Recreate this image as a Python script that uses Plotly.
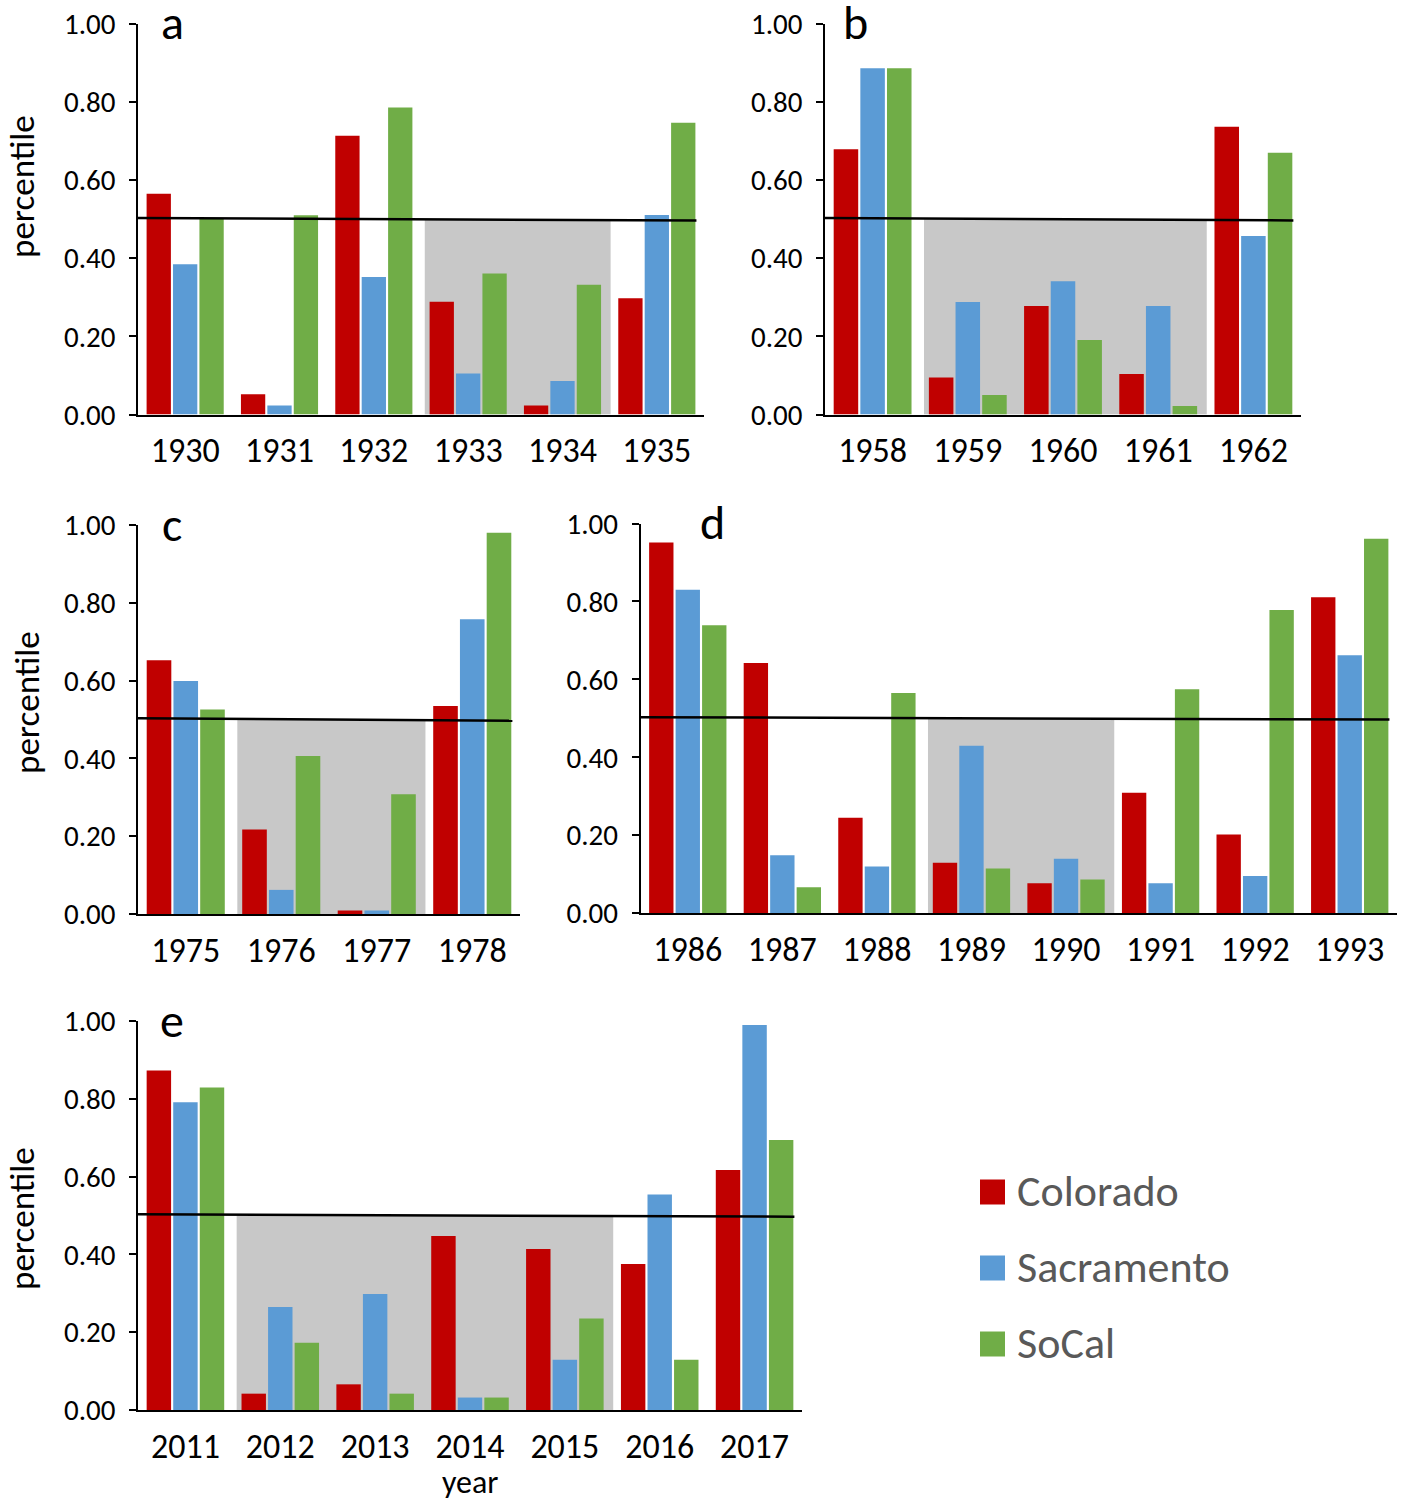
import plotly.graph_objects as go

# ---- data -------------------------------------------------------------
series_names = ["Colorado", "Sacramento", "SoCal"]
series_colors = ["#C00000", "#5B9BD5", "#70AD47"]

years_a = ["1930", "1931", "1932", "1933", "1934", "1935"]
colorado_a = [0.565, 0.052, 0.714, 0.289, 0.023, 0.298]
sacramento_a = [0.385, 0.023, 0.352, 0.105, 0.086, 0.511]
socal_a = [0.501, 0.510, 0.786, 0.361, 0.332, 0.747]
drought_a = ("1933", "1934")

years_b = ["1958", "1959", "1960", "1961", "1962"]
colorado_b = [0.679, 0.095, 0.278, 0.104, 0.737]
sacramento_b = [0.887, 0.288, 0.341, 0.278, 0.457]
socal_b = [0.887, 0.050, 0.191, 0.022, 0.670]
drought_b = ("1959", "1961")

years_c = ["1975", "1976", "1977", "1978"]
colorado_c = [0.652, 0.217, 0.009, 0.535]
sacramento_c = [0.599, 0.062, 0.009, 0.758]
socal_c = [0.526, 0.406, 0.308, 0.980]
drought_c = ("1976", "1977")

years_d = ["1986", "1987", "1988", "1989", "1990", "1991", "1992", "1993"]
colorado_d = [0.951, 0.642, 0.245, 0.130, 0.077, 0.309, 0.202, 0.811]
sacramento_d = [0.830, 0.149, 0.120, 0.430, 0.140, 0.077, 0.096, 0.662]
socal_d = [0.739, 0.067, 0.565, 0.115, 0.087, 0.575, 0.778, 0.961]
drought_d = ("1989", "1990")

years_e = ["2011", "2012", "2013", "2014", "2015", "2016", "2017"]
colorado_e = [0.873, 0.042, 0.066, 0.447, 0.414, 0.375, 0.617]
sacramento_e = [0.791, 0.265, 0.298, 0.032, 0.129, 0.554, 0.990]
socal_e = [0.829, 0.173, 0.042, 0.032, 0.235, 0.129, 0.694]
drought_e = ("2012", "2015")

# median reference line (left and right end values)
median_line = (0.503, 0.497)
y_ticks = [0.0, 0.2, 0.4, 0.6, 0.8, 1.0]

# ---- layout constants -------------------------------------------------
W, H = 1411, 1502
FONT = "Calibri, Carlito, Lato, sans-serif"
SHADE = "#C8C8C8"

# pixel boxes of each plot area: (left, right, top, bottom),
# horizontal centre of the panel letter, and y-label centre
panels = [
    dict(letter="a", years=years_a, vals=(colorado_a, sacramento_a, socal_a),
         drought=drought_a, box=(138, 704, 24, 414.5), letter_x=172, ylabel=(22, 187)),
    dict(letter="b", years=years_b, vals=(colorado_b, sacramento_b, socal_b),
         drought=drought_b, box=(825, 1301, 24, 414.5), letter_x=855, ylabel=None),
    dict(letter="c", years=years_c, vals=(colorado_c, sacramento_c, socal_c),
         drought=drought_c, box=(138, 520, 525, 914), letter_x=172, ylabel=(27, 703)),
    dict(letter="d", years=years_d, vals=(colorado_d, sacramento_d, socal_d),
         drought=drought_d, box=(640.5, 1397, 523.5, 913.3), letter_x=712, ylabel=None),
    dict(letter="e", years=years_e, vals=(colorado_e, sacramento_e, socal_e),
         drought=drought_e, box=(138, 802, 1021, 1410), letter_x=172, ylabel=(22, 1219)),
]


def px_x(v):
    return v / W


def px_y(v):
    return 1 - v / H


fig = go.Figure()
shapes = []
annotations = []
layout_axes = {}

for i, p in enumerate(panels, start=1):
    xa, ya = f"x{i}", f"y{i}"
    n = len(p["years"])
    pos = list(range(n))
    for name, color, vals in zip(series_names, series_colors, p["vals"]):
        fig.add_trace(go.Bar(
            x=pos, y=vals, name=name, marker=dict(color=color, line=dict(width=0)),
            xaxis=xa, yaxis=ya, showlegend=False,
        ))

    left, right, top, bottom = p["box"]
    layout_axes[f"xaxis{i}"] = dict(
        domain=[px_x(left), px_x(right)], anchor=ya, range=[-0.5, n - 0.5],
        tickvals=pos, ticktext=p["years"], ticks="", showgrid=False, zeroline=False,
        showline=True, linecolor="black", linewidth=2, automargin=False,
        tickfont=dict(family=FONT, size=34, color="black"), ticklabelstandoff=5,
        fixedrange=True,
    )
    layout_axes[f"yaxis{i}"] = dict(
        domain=[px_y(bottom), px_y(top)], anchor=xa, range=[0, 1],
        tickvals=y_ticks, tickformat=".2f", ticks="outside", ticklen=7, tickwidth=1.5,
        tickcolor="black", showgrid=False, zeroline=False, automargin=False,
        showline=True, linecolor="black", linewidth=1.5,
        tickfont=dict(family=FONT, size=29, color="black"), ticklabelstandoff=8,
        fixedrange=True,
    )

    # drought period shading
    d0 = p["years"].index(p["drought"][0])
    d1 = p["years"].index(p["drought"][1])
    shapes.append(dict(
        type="rect", xref=xa, yref=ya, x0=d0 - 0.46, x1=d1 + 0.51, y0=0, y1=0.5,
        fillcolor=SHADE, line=dict(width=0), layer="below",
    ))
    # median line
    shapes.append(dict(
        type="line", xref=xa, yref=ya, x0=-0.5, x1=n - 0.58,
        y0=median_line[0], y1=median_line[1],
        line=dict(color="black", width=2.5), layer="above",
    ))

    # panel letter
    annotations.append(dict(
        text=p["letter"], xref="paper", yref="paper",
        x=px_x(p["letter_x"]), y=px_y(top - 1), xanchor="center", yanchor="middle",
        showarrow=False, font=dict(family=FONT, size=48, color="black"),
    ))
    if p["ylabel"]:
        lx, ly = p["ylabel"]
        annotations.append(dict(
            text="percentile", xref="paper", yref="paper", x=px_x(lx), y=px_y(ly),
            xanchor="center", yanchor="middle", textangle=-90, showarrow=False,
            font=dict(family=FONT, size=35, color="black"),
        ))

annotations.append(dict(
    text="year", xref="paper", yref="paper", x=px_x(470), y=px_y(1482),
    xanchor="center", yanchor="middle", showarrow=False,
    font=dict(family=FONT, size=32, color="black"),
))

# legend drawn as swatches and labels
legend_rows = [1192, 1268, 1344]
for name, color, cy in zip(series_names, series_colors, legend_rows):
    shapes.append(dict(
        type="rect", xref="paper", yref="paper",
        x0=px_x(980), x1=px_x(1005), y0=px_y(cy + 12.5), y1=px_y(cy - 12.5),
        fillcolor=color, line=dict(width=0),
    ))
    annotations.append(dict(
        text=name, xref="paper", yref="paper", x=px_x(1015), y=px_y(cy - 1),
        xanchor="left", yanchor="middle", showarrow=False,
        font=dict(family=FONT, size=44, color="#595959"),
    ))

fig.update_layout(
    width=W, height=H, autosize=False,
    margin=dict(l=0, r=0, t=0, b=0),
    paper_bgcolor="white", plot_bgcolor="white",
    barmode="group", bargap=0.16, bargroupgap=0.08,
    shapes=shapes, annotations=annotations, showlegend=False,
    **layout_axes,
)

fig.write_html("out.html")
